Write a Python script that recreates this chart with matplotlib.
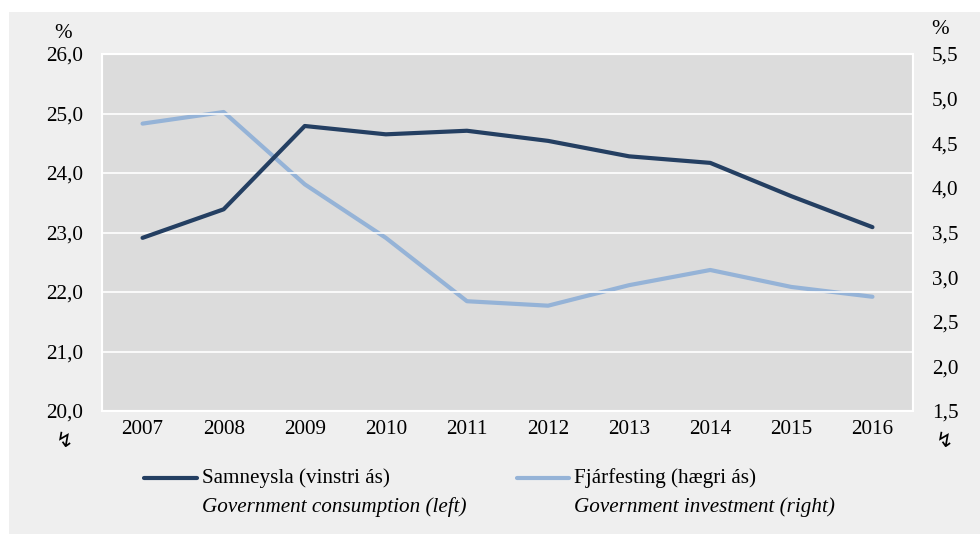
import matplotlib
matplotlib.use("Agg")
import matplotlib.pyplot as plt
from matplotlib.patches import Rectangle
from matplotlib.lines import Line2D

years = ["2007", "2008", "2009", "2010", "2011", "2012", "2013", "2014", "2015", "2016"]
consumption = [22.91, 23.39, 24.79, 24.65, 24.71, 24.54, 24.28, 24.17, 23.61, 23.09]
investment = [4.72, 4.85, 4.04, 3.44, 2.73, 2.68, 2.91, 3.08, 2.89, 2.78]
left_ticks = [20, 21, 22, 23, 24, 25, 26]
right_ticks = [1.5, 2.0, 2.5, 3.0, 3.5, 4.0, 4.5, 5.0, 5.5]
label_cons = "Samneysla (vinstri ás)"
label_cons_en = "Government consumption (left)"
label_inv = "Fjárfesting (hægri ás)"
label_inv_en = "Government investment (right)"

plt.rcParams['font.family'] = ['Liberation Serif', 'DejaVu Serif', 'DejaVu Sans']

W, H = 980, 534
fig = plt.figure(figsize=(W / 100, H / 100), dpi=100, facecolor="white")
fig.patches.append(Rectangle((9 / W, 0), 1 - 9 / W, 1 - 12 / H, transform=fig.transFigure,
                             facecolor="#EFEFEF", edgecolor="none", zorder=-10))

dark = "#243F62"
light = "#95B3D7"
fs = 15.2
lw = 3.0

ax = fig.add_axes([102 / W, 1 - 411 / H, (913 - 102) / W, (411 - 54) / H])
x = list(range(len(years)))
ax.plot(x, consumption, color=dark, lw=lw, solid_capstyle="round", zorder=3)
ax.set_xlim(-0.5, len(years) - 0.5)
ax.set_ylim(20, 26)
ax.set_yticks(left_ticks)
ax.set_yticklabels([f"{v:.1f}".replace(".", ",") for v in left_ticks], fontsize=fs)
ax.set_xticks(x)
ax.set_xticklabels(years, fontsize=fs)
ax.grid(axis="y", color="white", lw=1.2)
ax.set_axisbelow(True)
ax.tick_params(axis="both", length=0)
ax.tick_params(axis="y", pad=13.5)
ax.tick_params(axis="x", pad=6.5)
for s in ax.spines.values():
    s.set_color("white")
    s.set_linewidth(1.5)

ax2 = ax.twinx()
ax2.plot(x, investment, color=light, lw=lw, solid_capstyle="round", zorder=2)
ax2.set_ylim(1.5, 5.5)
ax2.set_yticks(right_ticks)
ax2.set_yticklabels([f"{v:.1f}".replace(".", ",") for v in right_ticks], fontsize=fs)
ax2.tick_params(axis="y", length=0, pad=13.5)
for s in ax2.spines.values():
    s.set_color("white")
    s.set_linewidth(1.5)
ax.set_zorder(ax2.get_zorder() + 1)
ax.patch.set_visible(False)
ax2.patch.set_visible(True)
ax2.patch.set_facecolor("#DCDCDC")
ax2.grid(False)

# percent signs
fig.text(63 / W, 1 - 34 / H, "%", ha="center", va="center", fontsize=fs)
fig.text(940 / W, 1 - 30 / H, "%", ha="center", va="center", fontsize=fs)
# axis break symbols
fig.text(65 / W, 1 - 441 / H, "\u21AF", ha="center", va="center", fontsize=15, family="DejaVu Sans")
fig.text(945 / W, 1 - 441 / H, "\u21AF", ha="center", va="center", fontsize=15, family="DejaVu Sans")

# legend
y1 = 1 - 478 / H
y2 = 1 - 507 / H
fig.add_artist(Line2D([144 / W, 197 / W], [y1, y1], color=dark, lw=lw, solid_capstyle="round"))
fig.text(202 / W, y1, label_cons, ha="left", va="center", fontsize=fs)
fig.text(202 / W, y2, label_cons_en, ha="left", va="center", fontsize=fs, style="italic")
fig.add_artist(Line2D([517 / W, 569 / W], [y1, y1], color=light, lw=lw, solid_capstyle="round"))
fig.text(574 / W, y1, label_inv, ha="left", va="center", fontsize=fs)
fig.text(574 / W, y2, label_inv_en, ha="left", va="center", fontsize=fs, style="italic")

fig.savefig("out.png", dpi=100, facecolor=fig.get_facecolor())
